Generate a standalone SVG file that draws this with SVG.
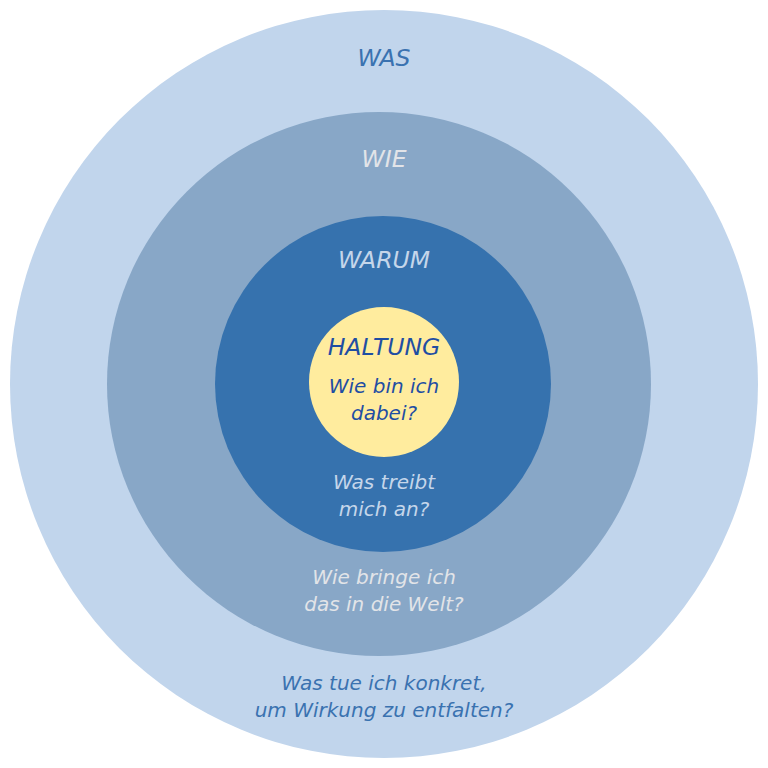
<svg xmlns="http://www.w3.org/2000/svg" width="768" height="768" viewBox="0 0 768 768">
<style>
text{font-family:"DejaVu Sans","Open Sans",sans-serif;font-style:italic;text-anchor:middle}
.t{font-size:23.5px}
.q{font-size:20px}
</style>
<rect width="768" height="768" fill="#ffffff"/>
<g id="was"><circle cx="384" cy="384" r="374" fill="#C1D5EC"/>
<text class="t" x="384" y="66" fill="#3A72B0">WAS</text>
<text class="q" x="384" y="690" fill="#3A72B0">Was tue ich konkret,</text>
<text class="q" x="384" y="717" fill="#3A72B0">um Wirkung zu entfalten?</text></g>
<g id="wie"><circle cx="379" cy="384" r="272" fill="#88A7C7"/>
<text class="t" x="384" y="167" fill="#E2E4E8">WIE</text>
<text class="q" x="384" y="584" fill="#E2E4E8">Wie bringe ich</text>
<text class="q" x="384" y="611" fill="#E2E4E8">das in die Welt?</text></g>
<g id="warum"><circle cx="383" cy="384" r="168" fill="#3672AE"/>
<text class="t" x="384" y="268" fill="#C5D6EA">WARUM</text>
<text class="q" x="384" y="489" fill="#C5D6EA">Was treibt</text>
<text class="q" x="384" y="516" fill="#C5D6EA">mich an?</text></g>
<g id="haltung"><circle cx="384" cy="382" r="75" fill="#FFEC9E"/>
<text class="t" x="384" y="355" fill="#1F4EA3">HALTUNG</text>
<text class="q" x="384" y="393" fill="#1F4EA3">Wie bin ich</text>
<text class="q" x="384" y="420" fill="#1F4EA3">dabei?</text></g>
<g id="connectors"/>
</svg>
